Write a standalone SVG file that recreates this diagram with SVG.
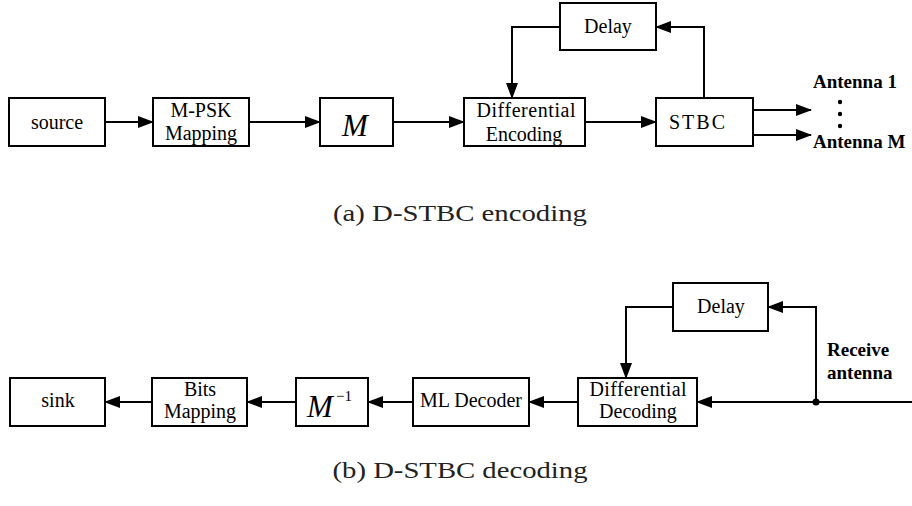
<svg xmlns="http://www.w3.org/2000/svg" width="912" height="506" viewBox="0 0 912 506">
<style>
text{font-family:'Liberation Serif','DejaVu Serif',serif}
.box{fill:#fff;stroke:#000;stroke-width:2}
.t{font-size:20px;fill:#000;text-anchor:middle}
.b{font-size:19px;font-weight:bold;fill:#000}
.m{font-style:italic;font-size:31px;fill:#000}
.cap{font-size:24px;fill:#222;text-anchor:middle}
.c{fill:none;stroke:#000;stroke-width:2;marker-end:url(#ah)}
</style>
<defs>
<marker id="ah" markerUnits="userSpaceOnUse" markerWidth="16" markerHeight="12" refX="15" refY="6" orient="auto">
<path d="M0,0 L16,6 L0,12 z" fill="#000"/>
</marker>
</defs>

<!-- (a) encoding -->
<g id="source"><rect class="box" x="9" y="98" width="96" height="48"/><text class="t" x="57" y="129">source</text></g>
<g id="mpsk"><rect class="box" x="153" y="98" width="96" height="48"/><text class="t" x="201" y="117">M-PSK</text><text class="t" x="201" y="140">Mapping</text></g>
<g id="mblock"><rect class="box" x="320" y="98" width="73" height="48"/><text class="m" x="355" y="136" text-anchor="middle">M</text></g>
<g id="diffenc"><rect class="box" x="464" y="98" width="121" height="48"/><text class="t" x="526" y="117" textLength="99" lengthAdjust="spacing">Differential</text><text class="t" x="524" y="141">Encoding</text></g>
<g id="stbc"><rect class="box" x="656" y="98" width="97" height="48"/><text class="t" x="697" y="129" textLength="56" lengthAdjust="spacing">STBC</text></g>
<g id="delay1"><rect class="box" x="560" y="3" width="96" height="47"/><text class="t" x="608" y="33">Delay</text></g>
<g id="antennas">
<text class="b" x="813" y="88">Antenna 1</text>
<circle cx="840" cy="102" r="2.2"/><circle cx="840" cy="114" r="2.2"/><circle cx="840" cy="126" r="2.2"/>
<text class="b" x="813" y="148">Antenna M</text>
</g>
<text class="cap" x="460" y="221" textLength="254" lengthAdjust="spacingAndGlyphs">(a) D-STBC encoding</text>

<!-- (b) decoding -->
<g id="sink"><rect class="box" x="10" y="378" width="95" height="48"/><text class="t" x="58" y="407">sink</text></g>
<g id="bits"><rect class="box" x="152" y="378" width="95" height="48"/><text class="t" x="200" y="396">Bits</text><text class="t" x="200" y="418">Mapping</text></g>
<g id="minv"><rect class="box" x="296" y="378" width="72" height="48"/><text class="m" x="307" y="417" font-size="29">M</text><text x="336" y="401" font-size="15">−1</text></g>
<g id="ml"><rect class="box" x="413" y="378" width="116" height="48"/><text class="t" x="471" y="407">ML Decoder</text></g>
<g id="diffdec"><rect class="box" x="578" y="378" width="119" height="48"/><text class="t" x="638" y="396" textLength="97" lengthAdjust="spacing">Differential</text><text class="t" x="638" y="418">Decoding</text></g>
<g id="delay2"><rect class="box" x="673" y="283" width="95" height="48"/><text class="t" x="721" y="313">Delay</text></g>
<g id="recv"><text class="b" x="827" y="356">Receive</text><text class="b" x="827" y="379">antenna</text></g>
<text class="cap" x="460" y="478" textLength="255" lengthAdjust="spacingAndGlyphs">(b) D-STBC decoding</text>

<g id="connectors">
<line class="c" x1="105" y1="122" x2="153" y2="122"/>
<line class="c" x1="249" y1="122" x2="320" y2="122"/>
<line class="c" x1="393" y1="122" x2="464" y2="122"/>
<line class="c" x1="585" y1="122" x2="656" y2="122"/>
<polyline class="c" points="704,98 704,27 656,27"/>
<polyline class="c" points="560,27 512,27 512,98"/>
<line class="c" x1="753" y1="110" x2="811" y2="110"/>
<line class="c" x1="753" y1="135" x2="811" y2="135"/>

<line class="c" x1="152" y1="402" x2="105" y2="402"/>
<line class="c" x1="296" y1="402" x2="247" y2="402"/>
<line class="c" x1="413" y1="402" x2="368" y2="402"/>
<line class="c" x1="578" y1="402" x2="529" y2="402"/>
<line class="c" x1="912" y1="402" x2="697" y2="402"/>
<polyline class="c" points="816,402 816,307 768,307"/>
<polyline class="c" points="673,307 626,307 626,378"/>
<circle cx="816" cy="402" r="3.5" fill="#000"/>
</g>
</svg>
